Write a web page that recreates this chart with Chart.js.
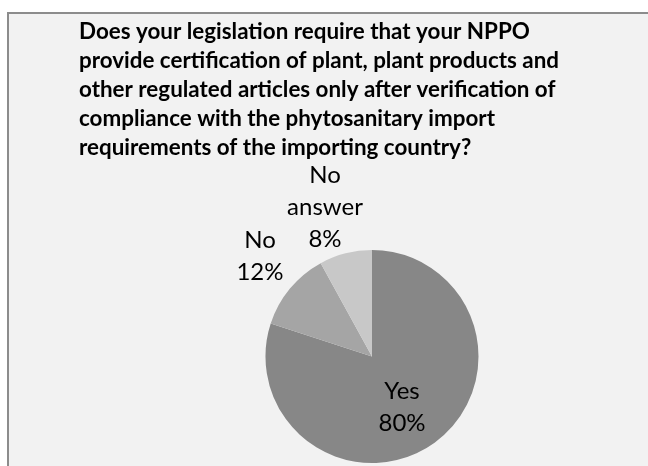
<!DOCTYPE html>
<html>
<head>
<meta charset="utf-8">
<script src="https://cdn.jsdelivr.net/npm/chart.js@4/dist/chart.umd.min.js"></script>
<style>
  html, body { margin: 0; padding: 0; background: #ffffff; overflow: hidden; }
  #frame {
    position: absolute; left: 7px; top: 12px; width: 700px; height: 520px;
    background: #f2f2f2; border: 2px solid #8c8c8c; box-sizing: border-box;
  }
  #wrap { position: absolute; left: 0; top: 0; width: 648px; height: 466px; }
</style>
</head>
<body>
<div id="frame"></div>
<div id="wrap"><canvas id="c" width="648" height="466"></canvas></div>
<script>
// Survey answers
const categories = ['Yes', 'No', 'No answer'];
const shares = [80, 12, 8];
const sliceColors = ['#878787', '#a5a5a5', '#c8c8c8'];
const titleLines = [
  'Does your legislation require that your NPPO',
  'provide certification of plant, plant products and',
  'other regulated articles only after verification of',
  'compliance with the phytosanitary import',
  'requirements of the importing country?'
];

// Label placement per slice: distance from centre (in radii) and angle nudge (deg)
const labelPlacement = [
  { r: 0.556, nudge: 5.5 },
  { r: 1.413, nudge: 2.3 },
  { r: 1.467, nudge: -3.1 }
];

const titlePlugin = {
  id: 'leftTitle',
  afterDraw(chart) {
    const ctx = chart.ctx;
    ctx.save();
    ctx.fillStyle = '#000';
    ctx.font = 'bold 22.4px Lato';
    ctx.textAlign = 'left';
    ctx.textBaseline = 'alphabetic';
    titleLines.forEach((t, i) => ctx.fillText(t, 79, 38.5 + i * 29.2));
    ctx.restore();
  }
};

const sliceLabels = {
  id: 'sliceLabels',
  afterDatasetsDraw(chart) {
    const ctx = chart.ctx;
    const meta = chart.getDatasetMeta(0);
    ctx.save();
    ctx.fillStyle = '#000';
    ctx.font = '24px Lato';
    ctx.textAlign = 'center';
    ctx.textBaseline = 'middle';
    meta.data.forEach((arc, i) => {
      const p = arc.getProps(['x', 'y', 'startAngle', 'endAngle', 'outerRadius'], true);
      const mid = (p.startAngle + p.endAngle) / 2 + labelPlacement[i].nudge * Math.PI / 180;
      const d = p.outerRadius * labelPlacement[i].r;
      const cx = p.x + Math.cos(mid) * d;
      const cy = p.y + Math.sin(mid) * d;
      const words = categories[i].split(' ');
      const lines = words.concat([shares[i] + '%']);
      const lh = 32;
      const y0 = cy - (lines.length - 1) * lh / 2;
      lines.forEach((l, k) => ctx.fillText(l, cx, y0 + k * lh));
    });
    ctx.restore();
  }
};

new Chart(document.getElementById('c'), {
  type: 'pie',
  data: {
    labels: categories,
    datasets: [{
      data: shares,
      backgroundColor: sliceColors,
      borderWidth: 0
    }]
  },
  options: {
    responsive: false,
    animation: false,
    layout: { padding: { top: 250, bottom: 3, left: 265.5, right: 169.5 } },
    plugins: {
      legend: { display: false },
      tooltip: { enabled: false },
      title: { display: false }
    }
  },
  plugins: [titlePlugin, sliceLabels]
});
</script>
</body>
</html>
